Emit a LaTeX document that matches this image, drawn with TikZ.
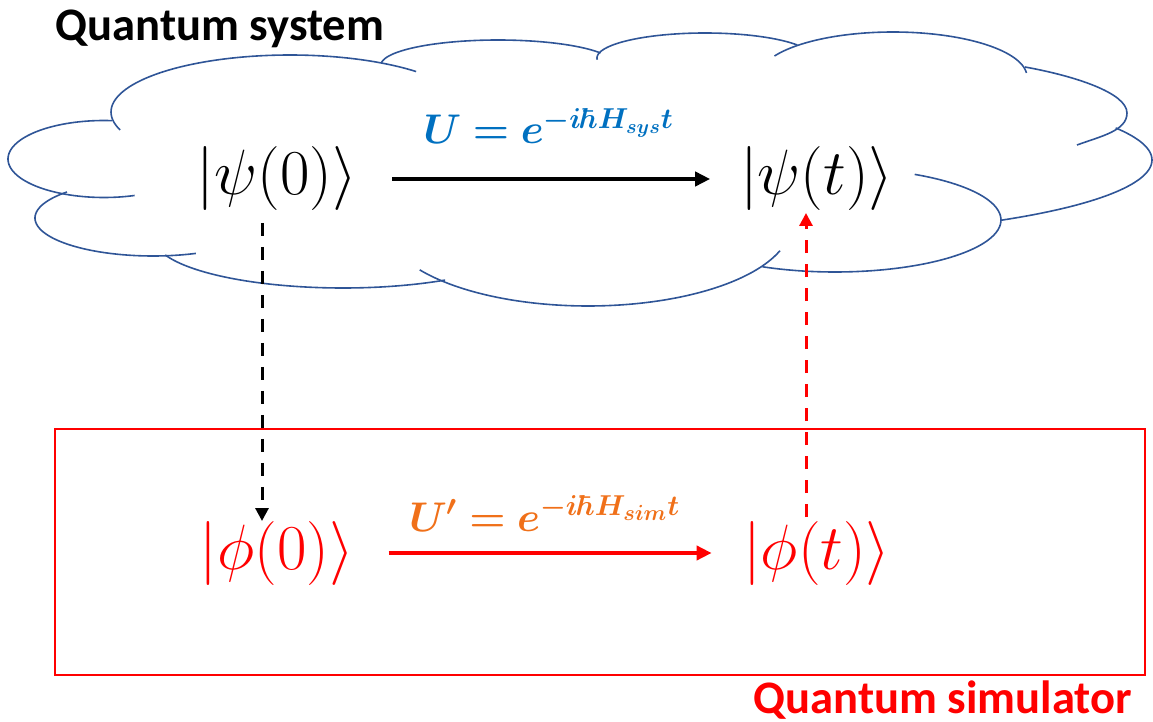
\documentclass[tikz,border=0pt]{standalone}
\usepackage{fontspec}
\usepackage{amsmath}
\usepackage{bm}
\usepackage{graphicx}
\newfontfamily\carlito{Carlito}
\usetikzlibrary{arrows.meta}
\definecolor{cloudblue}{RGB}{47,85,151}
\definecolor{ublue}{RGB}{0,112,192}
\definecolor{uorange}{RGB}{240,112,25}
\newcommand{\cloudbump}[6]{\draw[cloudline] plot[domain=#5:#6,samples=60,variable=\t] ({#1+#3*cos(\t)},{#2+#4*sin(\t)});}
\newcommand{\bigket}[1]{\scalebox{1.286}{$#1$}}
\begin{document}
\begin{tikzpicture}[x=0.5pt,y=-0.5pt,
  ket/.style={inner sep=0pt, outer sep=0pt, font=\fontsize{24.88}{30}\selectfont},
  titletext/.style={inner sep=0pt, anchor=base west, font=\carlito\bfseries\fontsize{23.3}{28}\selectfont},
  ulabel/.style={inner sep=0pt, anchor=base},
  cloudline/.style={draw=cloudblue, line width=0.8pt, smooth},
  mainarrow/.style={line width=2pt, -{Triangle[length=7.5pt,width=7pt]}},
  dasharrow/.style={line width=1.5pt, dash pattern=on 6.5pt off 5.5pt, -{Triangle[length=6.5pt,width=6.5pt]}},
  simframe/.style={draw=red, line width=0.8pt, inner sep=0pt, minimum width=545pt, minimum height=123pt}
]
\useasboundingbox (0,0) rectangle (1153,722);

% cloud outline (bumps: centre x, centre y, x radius, y radius, start, end)
\cloudbump{290}{112}{179}{57}{161.6}{314.8}
\cloudbump{498}{65}{117}{25}{184.6}{331.2}
\cloudbump{705}{58}{108}{25}{176}{328.7}
\cloudbump{893}{77}{134}{45}{207.8}{354.9}
\draw[cloudline] (1025,67) .. controls (1075,76) and (1127,93) .. (1127,113)
                 .. controls (1127,131) and (1100.5,136.3) .. (1077,145);
\cloudbump{752}{160}{400}{77}{-24.6}{51.5}
\cloudbump{835}{220}{166}{52}{-61.3}{115.9}
\cloudbump{588}{224}{203}{82}{19}{146}
\cloudbump{343}{238}{189}{50}{57.3}{160.1}
\cloudbump{153}{218}{118}{38}{68.7}{223.2}
\cloudbump{104}{159}{96}{38.5}{71.4}{274.8}

% titles
\node[titletext] (systitle) at (55,41) {Quantum system};
\node[titletext, text=red] (simtitle) at (753,713) {Quantum simulator};

% simulator frame
\node[simframe] (simbox) at (600,552) {};

% states
\node[ket] (psi0) at (277,179) {\bigket{\lvert\psi(0)\rangle}};
\node[ket] (psit) at (817,179) {\bigket{\lvert\psi(t)\rangle}};
\node[ket, text=red] (phi0) at (277,553) {\bigket{\lvert\phi(0)\rangle}};
\node[ket, text=red] (phit) at (817,553) {\bigket{\lvert\phi(t)\rangle}};

% evolution arrows
\draw[mainarrow, shorten <=17.5pt, shorten >=15pt] (psi0.east) -- (psit.west)
  node[ulabel, text=ublue, font=\fontsize{20}{24}\selectfont, midway, yshift=17.5pt] (ulab) {$\bm{U = e^{-i\hbar H_{sys}t}}$};
\draw[mainarrow, red, shorten <=17.25pt, shorten >=15.75pt] (phi0.east) -- (phit.west)
  node[ulabel, text=uorange, font=\fontsize{21}{25}\selectfont, midway, xshift=-2pt, yshift=11pt] (uplab) {$\bm{U' = e^{-i\hbar H_{sim}t}}$};

% mapping arrows
\draw[dasharrow, shorten <=6pt] ([xshift=-7.5pt]psi0.south) -- ([xshift=-7.5pt]phi0.north);
\draw[dasharrow, red, shorten <=2pt, shorten >=1pt] ([xshift=-5.5pt]phit.north) -- ([xshift=-5.5pt]psit.south);
\end{tikzpicture}
\end{document}
